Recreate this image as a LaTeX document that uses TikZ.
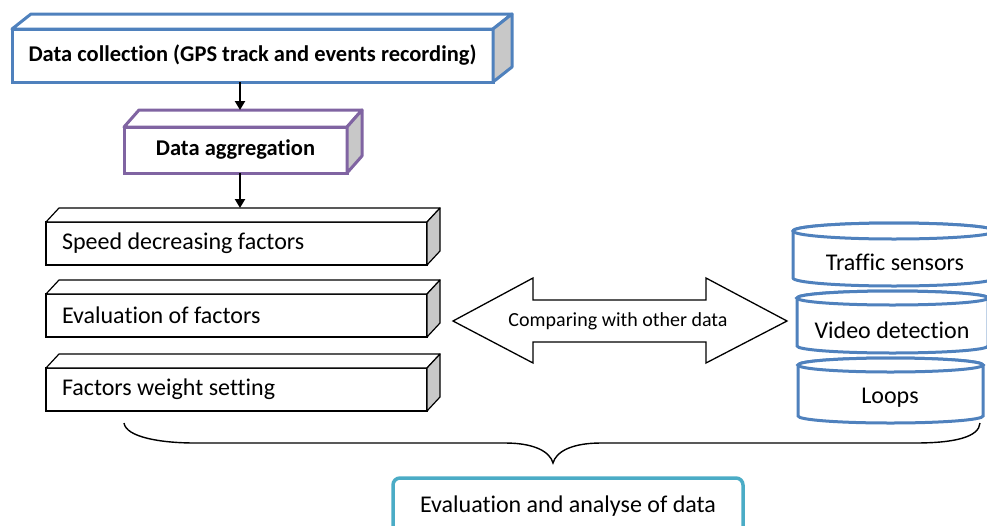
\documentclass[tikz,border=0pt]{standalone}
\usepackage{fontspec}
\setmainfont{Carlito}[Ligatures=CommonOff]
\usetikzlibrary{arrows.meta, positioning, calc}

\definecolor{boxblue}{RGB}{79,129,189}
\definecolor{boxpurple}{RGB}{128,100,162}
\definecolor{boxteal}{RGB}{75,172,198}
\definecolor{sidegray}{RGB}{200,200,200}

% top and right faces behind a front node: #1 node, #2 dx, #3 dy, #4 line options
\newcommand{\extrude}[4]{%
  \draw[#4, fill=white, line join=round] (#1.north west) -- ++(#2,-#3) -- ($(#1.north east)+(#2,-#3)$) -- (#1.north east) -- cycle;
  \draw[#4, fill=sidegray, line join=round] (#1.north east) -- ++(#2,-#3) -- ($(#1.south east)+(#2,-#3)$) -- (#1.south east) -- cycle;}
% drum: #1 left, #2 right, #3 top y, #4 bottom y, #5 half height of the rim
\newcommand{\drum}[5]{%
  \filldraw[drum] (#1,#3) -- (#1,#4) arc[start angle=180, end angle=0, x radius={(#2-#1)/2}, y radius=#5]
    -- (#2,#3) arc[start angle=360, end angle=180, x radius={(#2-#1)/2}, y radius=#5] -- cycle;
  \draw[drum] ({(#1+#2)/2},#3) ellipse[x radius={(#2-#1)/2}, y radius=#5];}

\begin{document}
\begin{tikzpicture}[x=1pt, y=-1pt, font=\fontsize{24}{28}\selectfont, >={Triangle[width=10pt,length=9pt]},
    face/.style={rectangle, draw, fill=white, outer sep=0pt, anchor=north west},
    factor/.style={face, line width=1.2pt, minimum height=43pt, inner xsep=16pt,
      execute at begin node={\hbox to 349pt\bgroup}, execute at end node={\hfil\egroup}},
    drum/.style={draw=boxblue, line width=3pt, fill=white},
    arr/.style={->, line width=2.5pt}]
\useasboundingbox (0,0) rectangle (987,525);
\clip (0,0) rectangle (987,525);

\node[face, draw=boxblue, line width=3pt, minimum width=481pt, minimum height=53pt, font=\fontsize{22.5}{26}\selectfont\bfseries] (collect) at (12,29) {Data collection (GPS track and events recording)};
\extrude{collect}{19}{15}{boxblue, line width=3pt}
\node[face, draw=boxpurple, line width=3pt, minimum width=223pt, minimum height=46pt, font=\fontsize{22.5}{26}\selectfont\bfseries] (aggr) at (124,127) {Data aggregation};
\extrude{aggr}{15}{17}{boxpurple, line width=3pt}

\node[factor] (speed) at (46,222) {Speed decreasing factors};
\extrude{speed}{13}{14}{line width=1.2pt}
\node[factor, below=29pt of speed] (evalf) {Evaluation of factors};
\extrude{evalf}{13}{14}{line width=1.2pt}
\node[factor, below=31pt of evalf] (weight) {Factors weight setting};
\extrude{weight}{13}{14}{line width=1.2pt}

\coordinate (spine) at (240,0);
\draw[arr, shorten >=17pt] (collect.south -| spine) -- (aggr.north -| spine);
\draw[arr, shorten >=14pt] (aggr.south -| spine) -- (speed.north -| spine);

% comparing arrow
\draw[line width=1.3pt, fill=white, line join=miter] (453,321) -- (533,278) -- (533,300) -- (706,300) -- (706,278) -- (787,321)
  -- (706,363) -- (706,342) -- (533,342) -- (533,363) -- cycle;
\node[font=\fontsize{20}{24}\selectfont] (compare) at (618,321) {Comparing with other data};

% data sources
\drum{793}{995}{231}{278}{8}
\node (traffic) at (895,262) {Traffic sensors};
\drum{797}{988}{298}{346}{7}
\node (video) at (892,330) {Video detection};
\drum{798}{983}{365}{416}{7}
\node (loops) at (890,398) {Loops};

% brace
\draw[line width=1.4pt] (124,423) .. controls (126,437) and (160,443) .. (195,443) -- (505,443)
  .. controls (535,443) and (550,452) .. (553,463) .. controls (556,452) and (571,443) .. (601,443)
  -- (915,443) .. controls (955,443) and (979,437) .. (980,423);

\node[draw=boxteal, line width=3.5pt, rounded corners=7pt, minimum width=350pt, text height=15pt, text depth=30pt, inner ysep=19pt, anchor=base] (analyse) at (568,512) {Evaluation and analyse of data};
\end{tikzpicture}
\end{document}
